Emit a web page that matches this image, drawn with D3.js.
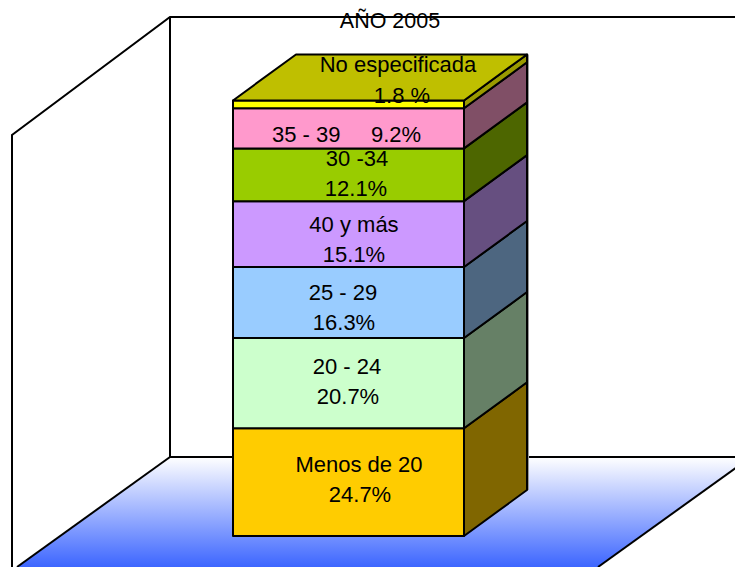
<!DOCTYPE html>
<html><head><meta charset="utf-8">
<script src="https://cdn.jsdelivr.net/npm/d3@7"></script>
<style>html,body{margin:0;padding:0;background:#fff}svg{display:block}text{font-family:"Liberation Sans",Arial,sans-serif;fill:#000}</style>
</head><body><svg id="c" width="735" height="567"></svg>
<script>
const categories = ["Menos de 20","20 - 24","25 - 29","40 y más","30 -34","35 - 39","No especificada"];
const values = [24.7,20.7,16.3,15.1,12.1,9.2,1.8];
const valueLabels = ["24.7%","20.7%","16.3%","15.1%","12.1%","9.2%","1.8 %"];
const frontColors = ["#FFCC00","#CCFFCC","#99CCFF","#CC99FF","#99CC00","#FF99CC","#FFFF00"];
const sideColors = ["#806600","#668066","#4D6680","#664F80","#4D6600","#804F66","#9A9A00"];
const topColor = "#BFBF00";
const titleText = "AÑO 2005";

const svg=d3.select("#c");
const defs=svg.append("defs");
const g=defs.append("linearGradient").attr("id","floor").attr("x1",0).attr("y1",0).attr("x2",0).attr("y2",1);
g.append("stop").attr("offset","0%").attr("stop-color","#ffffff");
g.append("stop").attr("offset","100%").attr("stop-color","#3d66ff");

const y=d3.scaleLinear().domain([0,100]).range([536,100]);
const x0=233,x1=464,dx=63,dy=-46;
const line=d3.line();
const black="#000";
const sw=2;

// Walls and floor
svg.append("path").attr("d",line([[170,457],[751,457],[598,567],[17,567]])+"Z").attr("fill","url(#floor)");
svg.append("path").attr("d",line([[12,567],[12,135],[170,17],[735,17]])).attr("fill","none").attr("stroke",black).attr("stroke-width",sw);
svg.append("path").attr("d",line([[170,17],[170,457],[735,457]])).attr("fill","none").attr("stroke",black).attr("stroke-width",sw);
svg.append("path").attr("d",line([[170,457],[17,567]])).attr("fill","none").attr("stroke",black).attr("stroke-width",sw);
svg.append("path").attr("d",line([[751,457],[598,567]])).attr("fill","none").attr("stroke",black).attr("stroke-width",sw);

// Stacked column
let cum=0;
const stack=values.map((v,i)=>{const s={i,a:cum,b:cum+v};cum+=v;return s;});
const cols=svg.append("g").attr("stroke",black).attr("stroke-width",sw).attr("stroke-linejoin","round");
stack.forEach(s=>{
  const ya=y(s.a),yb=y(s.b);
  cols.append("path").attr("fill",sideColors[s.i])
    .attr("d",line([[x1,ya],[x1+dx,ya+dy],[x1+dx,yb+dy],[x1,yb]])+"Z");
  cols.append("rect").attr("x",x0).attr("y",yb).attr("width",x1-x0).attr("height",ya-yb).attr("fill",frontColors[s.i]);
});
const topY=y(cum);
cols.append("path").attr("fill",topColor)
  .attr("d",line([[x0,topY],[x0+dx,topY+dy],[x1+dx,topY+dy],[x1,topY]])+"Z");
svg.append("line").attr("x1",x1+dx+1.5).attr("x2",x1+dx+1.5).attr("y1",topY+dy).attr("y2",536+dy).attr("stroke","#999").attr("stroke-width",1);

// Labels: hand-placed like the original callouts
const fs=22;
const labelLayout=[
 {i:0,cat:[359,472],val:[360,502]},
 {i:1,cat:[347,374],val:[348,404]},
 {i:2,cat:[343,300],val:[344,330]},
 {i:3,cat:[354,232],val:[354,262]},
 {i:4,cat:[357,166],val:[356,196]},
 {i:6,cat:[398,72],val:[402,103]}
];
const t=svg.append("g").attr("font-size",fs).attr("text-anchor","middle");
labelLayout.forEach(l=>{
  t.append("text").attr("x",l.cat[0]).attr("y",l.cat[1]).text(categories[l.i]);
  t.append("text").attr("x",l.val[0]).attr("y",l.val[1]).text(valueLabels[l.i]);
});
t.append("text").attr("x",346.5).attr("y",142).style("white-space","pre").text(categories[5]+"     "+valueLabels[5]);
svg.append("text").attr("x",390).attr("y",28).attr("text-anchor","middle").attr("font-size",21.5).text(titleText);
</script></body></html>
